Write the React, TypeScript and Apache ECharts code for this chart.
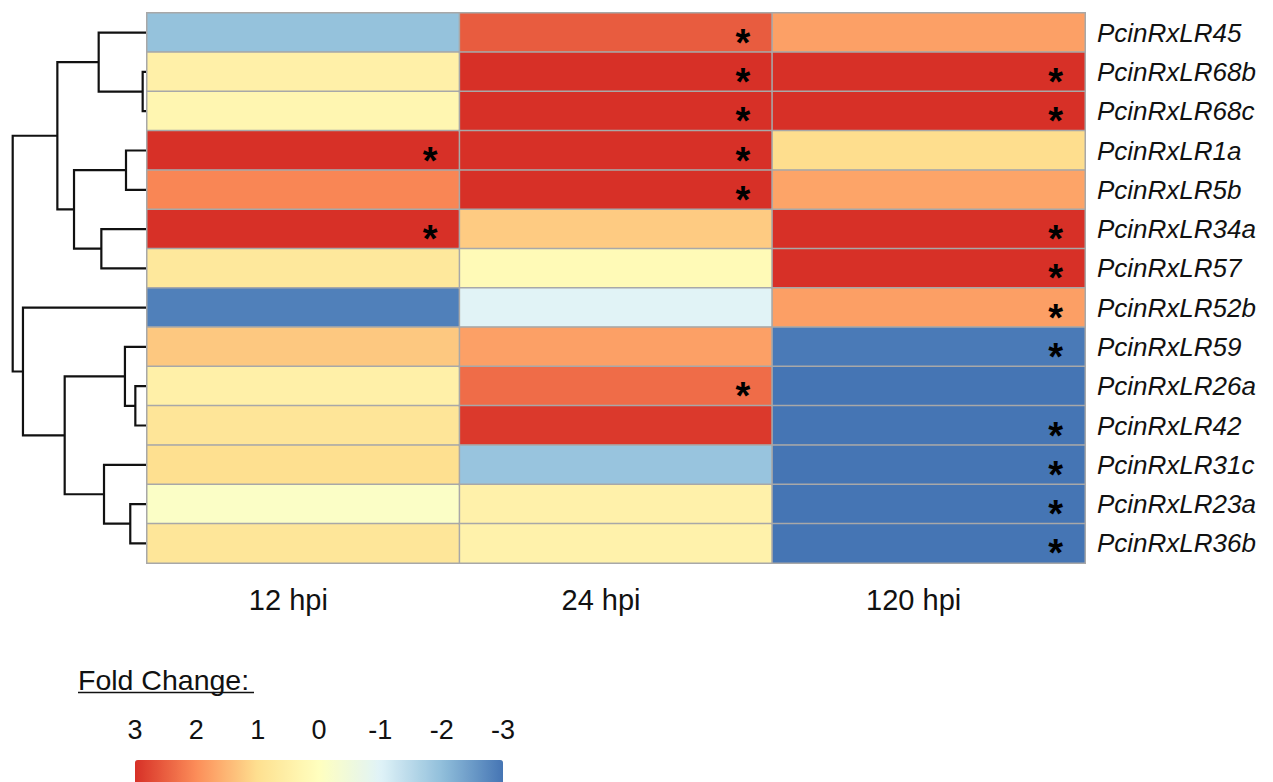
import React, { useEffect, useRef } from "react";
import * as echarts from "echarts";

const timepoints = ["12 hpi", "24 hpi", "120 hpi"];
const genes = [
  "PcinRxLR45",
  "PcinRxLR68b",
  "PcinRxLR68c",
  "PcinRxLR1a",
  "PcinRxLR5b",
  "PcinRxLR34a",
  "PcinRxLR57",
  "PcinRxLR52b",
  "PcinRxLR59",
  "PcinRxLR26a",
  "PcinRxLR42",
  "PcinRxLR31c",
  "PcinRxLR23a",
  "PcinRxLR36b",
];
// log fold change values per time point (row order = genes)
const fc12 = [-1.95, 0.5, 0.3, 3, 2.08, 3, 0.74, -2.85, 1.29, 0.5, 0.84, 1.0, -0.12, 0.8];
const fc24 = [2.53, 3, 3, 3, 3, 1.25, 0.16, -0.97, 1.77, 2.35, 2.9, -1.91, 0.45, 0.42];
const fc120 = [1.77, 3, 3, 1.03, 1.72, 3, 3, 1.78, -2.93, -3, -3, -3, -3, -3];
// significance marks (*)
const sig12 = [0, 0, 0, 1, 0, 1, 0, 0, 0, 0, 0, 0, 0, 0];
const sig24 = [1, 1, 1, 1, 1, 0, 0, 0, 0, 1, 0, 0, 0, 0];
const sig120 = [0, 1, 1, 0, 0, 1, 1, 1, 1, 0, 1, 1, 1, 1];

const legendTicks = [3, 2, 1, 0, -1, -2, -3];
const colorScale = ["#4575b4", "#91bfdb", "#e0f3f8", "#ffffbf", "#fee090", "#fc8d59", "#d73027"];

// dendrogram merges: [childA, childB, height]; leaves 0..13, merged nodes 14..
const merges: number[][] = [
  [1, 2, 0.025],
  [0, 14, 0.355],
  [3, 4, 0.15],
  [5, 6, 0.335],
  [16, 17, 0.54],
  [15, 18, 0.665],
  [9, 10, 0.08],
  [8, 20, 0.158],
  [12, 13, 0.118],
  [11, 22, 0.315],
  [21, 23, 0.61],
  [7, 24, 0.923],
  [19, 25, 1.0],
];

const FONT = "'Liberation Sans', Arial, Helvetica, sans-serif";

export default function App() {
  const ref = useRef<HTMLDivElement>(null);

  useEffect(() => {
    if (!ref.current) return;
    const chart = echarts.init(ref.current, undefined, { renderer: "svg" });

    const fcCols = [fc12, fc24, fc120];
    const sigCols = [sig12, sig24, sig120];
    const heatData: any[] = [];
    fcCols.forEach((col, ci) => {
      col.forEach((v, ri) => {
        heatData.push([ci, ri, v]);
      });
    });

    // build dendrogram polylines
    const pos: { x: number; y: number }[] = genes.map((_, i) => ({ x: 0, y: i + 0.5 }));
    const dendroLines: any[] = [];
    merges.forEach(([a, b, h]) => {
      const pa = pos[a];
      const pb = pos[b];
      dendroLines.push({
        coords: [
          [pa.x, pa.y],
          [h, pa.y],
          [h, pb.y],
          [pb.x, pb.y],
        ],
      });
      pos.push({ x: h, y: (pa.y + pb.y) / 2 });
    });

    const barLeft = 135;
    const barLen = 368;
    const tickTexts = legendTicks.map((v) => ({
      type: "text",
      x: barLeft + ((3 - v) / 6) * barLen,
      y: 730,
      style: {
        text: String(v),
        font: `27px ${FONT}`,
        fill: "#111",
        align: "center",
        verticalAlign: "middle",
      },
    }));

    chart.setOption({
      animation: false,
      backgroundColor: "#ffffff",
      grid: [
        { left: 147, right: 188, top: 13, bottom: 219 },
        { left: 12.7, width: 133.3, top: 13, bottom: 219 },
      ],
      xAxis: [
        {
          type: "category",
          gridIndex: 0,
          data: timepoints,
          position: "bottom",
          axisLine: { show: false },
          axisTick: { show: false },
          splitLine: { show: false },
          axisLabel: {
            fontFamily: FONT,
            fontSize: 29,
            color: "#111",
            margin: 22,
            padding: [0, 30, 0, 0],
          },
        },
        {
          type: "value",
          gridIndex: 1,
          min: 0,
          max: 1,
          inverse: true,
          show: false,
        },
      ],
      yAxis: [
        {
          type: "category",
          gridIndex: 0,
          data: genes,
          inverse: true,
          position: "right",
          axisLine: { show: false },
          axisTick: { show: false },
          splitLine: { show: false },
          axisLabel: {
            fontFamily: FONT,
            fontStyle: "italic",
            fontSize: 26,
            color: "#111",
            margin: 12,
            padding: [8, 0, 0, 0],
          },
        },
        {
          type: "value",
          gridIndex: 1,
          min: 0,
          max: 14,
          inverse: true,
          show: false,
        },
      ],
      visualMap: {
        type: "continuous",
        min: -3,
        max: 3,
        seriesIndex: 0,
        orient: "horizontal",
        inverse: true,
        left: barLeft,
        top: 760,
        itemWidth: 24,
        itemHeight: barLen,
        padding: 0,
        calculable: false,
        hoverLink: false,
        text: ["", ""],
        inRange: { color: colorScale },
      },
      graphic: [
        {
          type: "text",
          x: 78,
          y: 680,
          style: {
            text: "Fold Change:",
            font: `28.5px ${FONT}`,
            fill: "#111",
            align: "left",
            verticalAlign: "middle",
          },
        },
        {
          type: "line",
          shape: { x1: 78, y1: 692.5, x2: 254, y2: 692.5 },
          style: { stroke: "#111", lineWidth: 1.5 },
        },
        ...tickTexts,
      ],
      series: [
        {
          type: "heatmap",
          xAxisIndex: 0,
          yAxisIndex: 0,
          data: heatData,
          itemStyle: { borderColor: "#a8a8a8", borderWidth: 1.5 },
          emphasis: { disabled: true },
          label: {
            show: true,
            position: "insideRight",
            distance: 23,
            offset: [0, 10],
            fontFamily: FONT,
            fontSize: 38,
            fontWeight: "bold",
            lineHeight: 18,
            color: "#000",
            formatter: (p: any) => (sigCols[p.data[0]][p.data[1]] ? "*" : ""),
          },
        },
        {
          type: "lines",
          coordinateSystem: "cartesian2d",
          xAxisIndex: 1,
          yAxisIndex: 1,
          polyline: true,
          silent: true,
          lineStyle: { color: "#111", width: 2.2, opacity: 1 },
          data: dendroLines,
        },
      ],
    });

    return () => chart.dispose();
  }, []);

  return (
    <div
      ref={ref}
      style={{ position: "fixed", left: 0, top: 0, width: 1273, height: 782, background: "#fff" }}
    />
  );
}
